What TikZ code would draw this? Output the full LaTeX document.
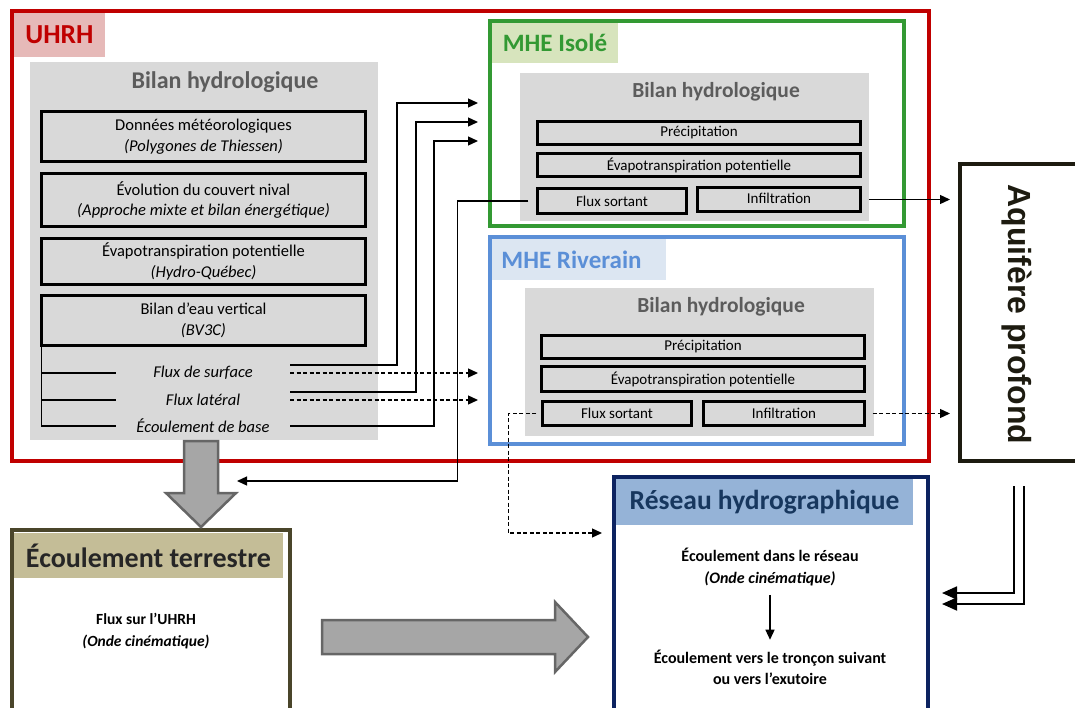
\documentclass[tikz,border=0pt]{standalone}
\usepackage{fontspec}
\setmainfont{Carlito}
\newfontfamily\aqfont{Liberation Sans}
\usetikzlibrary{arrows.meta}

\definecolor{uhrhred}{HTML}{C00000}
\definecolor{uhrhtag}{HTML}{E6B9B8}
\definecolor{panel}{HTML}{D9D9D9}
\definecolor{paneltext}{HTML}{5C5C5C}
\definecolor{isogreen}{HTML}{339933}
\definecolor{isotag}{HTML}{D7E4BD}
\definecolor{rivblue}{HTML}{5B8FD7}
\definecolor{rivtag}{HTML}{DCE6F2}
\definecolor{navy}{HTML}{0D2360}
\definecolor{navytag}{HTML}{95B3D7}
\definecolor{navytext}{HTML}{17375E}
\definecolor{olive}{HTML}{4A452A}
\definecolor{olivetag}{HTML}{C4BD97}
\definecolor{aqdark}{HTML}{1D1B10}
\definecolor{bigarrow}{HTML}{A6A6A6}
\definecolor{bigarrowline}{HTML}{666666}

\newcommand{\fs}[1]{\fontsize{#1}{1.3\dimexpr#1pt\relax}\selectfont}

\begin{document}
\begin{tikzpicture}[x=1pt,y=-1pt,
  every node/.style={inner sep=0pt, outer sep=0pt},
  sz/.style 2 args={minimum width=#1pt, minimum height=#2pt},
  frame/.style={draw, line width=4pt},
  tagbox/.style={fill, draw=none, font=\bfseries\fs{25}},
  panelbox/.style={fill=panel, draw=none},
  paneltitle/.style={text=paneltext, font=\bfseries\fs{21.5}},
  item/.style={draw=black, line width=2.6pt, fill=panel, align=center,
    font=\fontsize{16.5}{20.5}\selectfont},
  mitem/.style={draw=black, line width=2.6pt, fill=panel, font=\fs{15}},
  fluxlabel/.style={minimum width=174pt, font=\itshape\fs{16.5}},
  link/.style={draw=black, line width=1.3pt},
  flow/.style={link, -{Triangle[length=10pt,width=9pt]}},
  dflow/.style={flow, dash pattern=on 4pt off 2.5pt},
  bigflow/.style={draw=black, line width=1.8pt, -{Triangle[length=15pt,width=13pt]}},
  fatarrow/.style={fill=bigarrow, draw=bigarrowline, line width=2.5pt, line join=miter},
  bodytext/.style={align=center, font=\bfseries\fontsize{15.5}{22}\selectfont}]

\useasboundingbox (0,0) rectangle (1075,708);

% ---------- UHRH ----------
\node[frame, draw=uhrhred, sz={917}{450}] (uhrh) at (470.5,236) {};
\node[tagbox, fill=uhrhtag, text=uhrhred, font=\bfseries\fs{27.5}, sz={91}{44}] (uhrhtag) at (59.5,35) {UHRH};
\node[panelbox, sz={348}{378}] (uhrhpanel) at (204,251) {};
\node[paneltitle, font=\bfseries\fs{24}] (uhrhtitle) at (225,82) {Bilan hydrologique};

\node[item, sz={324.4}{50.4}] (meteo) at (203.5,136.5) {Données météorologiques\\\textit{(Polygones de Thiessen)}};
\node[item, sz={324.4}{53.4}] (nival) at (203.5,200) {Évolution du couvert nival\\\textit{(Approche mixte et bilan énergétique)}};
\node[item, sz={324.4}{46.4}] (etp) at (203.5,261.5) {Évapotranspiration potentielle\\\textit{(Hydro-Québec)}};
\node[item, sz={324.4}{50.4}] (bv) at (203.5,320.5) {Bilan d’eau vertical\\\textit{(BV3C)}};

\node[fluxlabel] (fsurf) at (203,373) {Flux de surface};
\node[fluxlabel] (flat) at (203,400) {Flux latéral};
\node[fluxlabel] (fbase) at (203,426) {Écoulement de base};

% outputs of the vertical water balance
\draw[link] (bv.south west) |- (fbase.west);
\draw[link] (bv.south west |- fsurf.west) -- (fsurf.west);
\draw[link] (bv.south west |- flat.west) -- (flat.west);

% ---------- MHE Isolé ----------
\node[frame, draw=isogreen, sz={414}{205}] (iso) at (697,123.5) {};
\node[tagbox, fill=isotag, text=isogreen, sz={126}{40}] (isotag) at (555,43) {MHE Isolé};
\node[panelbox, sz={349}{148}] (isopanel) at (694.5,147) {};
\node[paneltitle] (isotitle) at (716,92) {Bilan hydrologique};
\node[mitem, sz={323.4}{23.4}] (isoP) at (699,133) {Précipitation};
\node[mitem, sz={323.4}{23.4}] (isoE) at (699,165) {Évapotranspiration potentielle};
\node[mitem, sz={149.4}{25.4}] (isoFS) at (612,201) {Flux sortant};
\node[mitem, sz={163.4}{24.4}] (isoInf) at (779,199.5) {\raisebox{2pt}{Infiltration}};

% ---------- MHE Riverain ----------
\node[frame, draw=rivblue, sz={414}{207}] (riv) at (697,340.5) {};
\node[tagbox, fill=rivtag, text=rivblue, sz={174}{41}] (rivtag) at (579,259.5) {\hspace*{-15pt}MHE Riverain};
\node[panelbox, sz={349}{148}] (rivpanel) at (699.5,362) {};
\node[paneltitle] (rivtitle) at (721,306.5) {Bilan hydrologique};
\node[mitem, sz={323.4}{23.4}] (rivP) at (703,347) {Précipitation};
\node[mitem, sz={323.4}{25.4}] (rivE) at (703,379) {Évapotranspiration potentielle};
\node[mitem, sz={149.4}{24.4}] (rivFS) at (617,413.5) {Flux sortant};
\node[mitem, sz={161.4}{24.4}] (rivInf) at (784,413.5) {\raisebox{1pt}{Infiltration}};

% ---------- Aquifère profond ----------
\node[frame, draw=aqdark, sz={140}{297}] (aq) at (1030,312.5) {};
\node[rotate=-90, text=aqdark, font=\aqfont\bfseries\fs{32}] (aqtext) at (1017,314.5) {Aquifère profond};

% ---------- Réseau hydrographique ----------
\node[frame, draw=navy, sz={314}{253}] (res) at (771,603.5) {};
\node[tagbox, fill=navytag, text=navytext, font=\bfseries\fs{27.5}, sz={297}{46}] (restag) at (764.5,502) {Réseau hydrographique};
\node[bodytext, font=\bfseries\fontsize{16}{22}\selectfont] (resA) at (770,567) {Écoulement dans le réseau\\\textit{(Onde cinématique)}};
\node[bodytext, font=\bfseries\fontsize{16}{21}\selectfont] (resB) at (770,667) {Écoulement vers le tronçon suivant\\ou vers l’exutoire};
\draw[flow] ([yshift=-9pt]resA.south) -- ([yshift=10pt]resA.south |- resB.north);

% ---------- Écoulement terrestre ----------
\node[frame, draw=olive, sz={278}{211}] (ter) at (151,635) {};
\node[tagbox, fill=olivetag, text=black!85, font=\bfseries\fs{28}, sz={269}{45}] (tertag) at (148.5,555.5) {Écoulement terrestre};
\node[bodytext] (terA) at (146,631) {Flux sur l’UHRH\\\textit{(Onde cinématique)}};

% ---------- connectors ----------
\coordinate (iso1) at (478,103);
\coordinate (iso2) at (478,122);
\coordinate (iso3) at (478,141);
\coordinate (riv1) at (478,373);
\coordinate (riv2) at (478,400);
\coordinate (terIn) at (237,481);
\coordinate (resIn) at (602,533);
\coordinate (aqOut1) at (1014,486);
\coordinate (aqOut2) at (1024,486);
\coordinate (resIn1) at (942,593);
\coordinate (resIn2) at (942,604);

\draw[flow] ([yshift=8pt]fsurf.east) -| ([xshift=-81pt]iso1) -- (iso1);
\draw[flow] ([yshift=8pt]flat.east) -| ([xshift=-62pt]iso2) -- (iso2);
\draw[flow] (fbase.east) -| ([xshift=-44pt]iso3) -- (iso3);
\draw[dflow] (fsurf.east) -- (riv1);
\draw[dflow] (flat.east) -- (riv2);

\draw[flow] ([xshift=-9pt]isoFS.west) -- ++(-71,0) |- (terIn);
\draw[flow] ([xshift=8pt]isoInf.east) -- ([xshift=-10pt]aq.west |- isoInf.east);
\draw[dflow] ([xshift=-6pt]rivFS.west) -- ++(-28,0) |- (resIn);
\draw[dflow] ([xshift=8pt]rivInf.east) -- ([xshift=-10pt]aq.west |- rivInf.east);

\draw[bigflow] (aqOut1) |- (resIn1);
\draw[bigflow] (aqOut2) |- (resIn2);

% ---------- broad transfer arrows ----------
\draw[fatarrow] (184,441) -- (218,441) -- (218,493) -- (236,493) -- (201,527)
  -- (166,493) -- (184,493) -- cycle;
\draw[fatarrow] (322,620) -- (555,620) -- (555,602) -- (588,637) -- (555,672)
  -- (555,654) -- (322,654) -- cycle;

\end{tikzpicture}
\end{document}
